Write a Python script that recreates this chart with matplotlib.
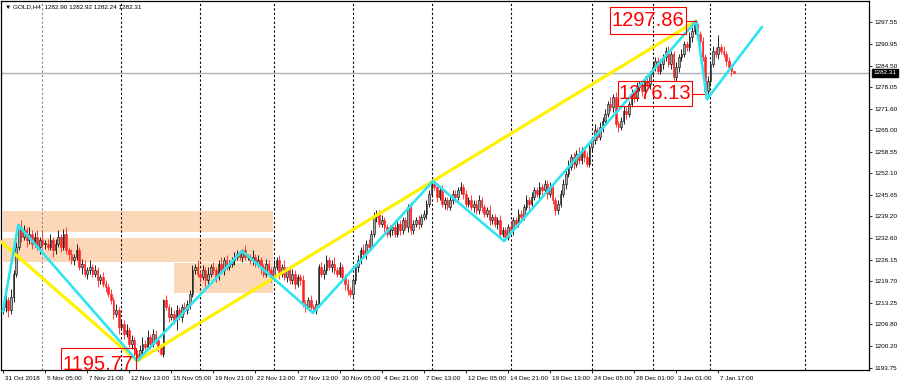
import numpy as np
import matplotlib
matplotlib.use("Agg")
import matplotlib.pyplot as plt
from matplotlib.patches import Rectangle
import matplotlib.transforms as mtransforms

plt.rcParams['font.family'] = ['Liberation Sans', 'DejaVu Sans']

# GOLD H4, one value per bar (31 Oct 2018 13:00 -> 8 Jan 2019)
closes = [
    1212, 1214, 1211, 1215, 1222, 1230, 1236,
    1233, 1235, 1232, 1234, 1231, 1233, 1230, 1232, 1231,
    1231, 1230, 1232, 1229, 1231, 1233, 1230, 1234, 1229,
    1228, 1226, 1227, 1229, 1224, 1225, 1222, 1223,
    1224, 1222, 1223, 1220, 1221, 1219, 1218, 1216,
    1214, 1210, 1211, 1206,
    1207, 1204, 1205, 1201, 1202, 1198, 1197,
    1199, 1201, 1200, 1203, 1201, 1204, 1202, 1200, 1198,
    1214,
    1212, 1209, 1210, 1208, 1211, 1209, 1212, 1211, 1213,
    1216, 1223, 1224,
    1222, 1221, 1223, 1220, 1222, 1224, 1223, 1221, 1225, 1223, 1226, 1224, 1225,
    1226, 1227, 1228, 1227, 1229, 1227,
    1227, 1226, 1227, 1225, 1226, 1224, 1222, 1225, 1223, 1221, 1224,
    1226, 1222, 1224, 1221, 1223, 1220, 1222, 1219, 1221, 1220,
    1213, 1212, 1214, 1212, 1211, 1213,
    1224,
    1222, 1223, 1226, 1224, 1225, 1223, 1222, 1224, 1221, 1219,
    1217, 1216, 1220,
    1224, 1226, 1229, 1228, 1231, 1230, 1234,
    1239, 1240, 1237, 1238, 1236, 1234,
    1235, 1236, 1234, 1237, 1235, 1238, 1236, 1242, 1235, 1237,
    1238, 1237, 1239, 1240, 1243, 1246, 1249,
    1248, 1245, 1247, 1243, 1244, 1242, 1244, 1246, 1245,
    1247, 1248, 1246, 1243, 1244, 1242,
    1243, 1241, 1244, 1242, 1240, 1241, 1238,
    1239, 1237, 1238, 1234, 1235, 1233,
    1236, 1235, 1238, 1237, 1240, 1239, 1242, 1244, 1243,
    1245, 1247, 1246, 1248, 1247, 1249, 1246, 1248,
    1244, 1241, 1243,
    1246, 1249, 1252, 1254,
    1257, 1255, 1258, 1256, 1259, 1257, 1255,
    1260, 1262, 1265, 1263, 1266, 1268,
    1270, 1273, 1272, 1275,
    1267, 1266,
    1268, 1271, 1270, 1273,
    1276, 1275, 1278, 1279, 1277,
    1280, 1279, 1282, 1284, 1286, 1283, 1285,
    1287, 1289, 1285, 1288, 1281, 1284, 1287,
    1288, 1291, 1290, 1293, 1295, 1297,
    1294,
    1292, 1287,
    1277,
    1280, 1285, 1289,
    1288, 1290, 1289, 1288,
    1286, 1284, 1282.90,
    1282.31,
]
first_open = 1211.0

wick_up = [
    1.5, 2, 1, 2.5, 1, 1.5, 1, 2, 1.5, 1,
    2, 1, 1.5, 2, 1, 3, 1, 1.5, 2, 1,
    1.5, 2, 1, 1.5, 2, 1, 1.5, 1, 2, 1,
    1.5, 1, 1, 2, 1, 1.5, 1, 1, 1.5, 1,
    1, 1.5, 1, 2, 1, 1.5, 1, 2, 1, 1.5,
    1, 1, 1.5, 2, 1, 2, 1, 1.5, 1, 1,
    1, 0.5, 1.5, 1, 2, 1, 1.5, 1, 1, 1.5,
    1, 1, 1.5, 1, 2, 1, 1.5, 1, 2, 1,
    1.5, 1, 1, 2, 1, 1.5, 1, 1, 1.5, 1,
    1, 0.5, 1.5, 1, 1, 2, 1, 1.5, 1, 1,
    1.5, 1, 1, 2, 1, 1.5, 1, 2, 1, 1,
    1.5, 1, 1, 1, 1.5, 1, 1, 1.5, 1, 1,
    1, 1.5, 2, 1.5, 1, 1, 2, 1, 1.5, 1,
    1, 1.5, 1, 1, 1, 1.5, 1, 2, 1, 1.5,
    1, 1.5, 1, 1, 1.5, 1, 1, 1.5, 1, 1,
    1.5, 1, 1, 1, 1, 1.5, 1, 1, 1.5, 1,
    1, 1, 1, 0.6, 1.5, 1, 1, 1.5, 1, 1,
    1.5, 1, 1, 1, 1.5, 1, 1, 1, 1.5, 1,
    1, 1.5, 1, 1, 1, 1.5, 1, 1, 1, 1.5,
    1, 1, 1, 1.5, 1, 1, 1.5, 1, 1, 1.5,
    1, 1.5, 1, 1, 1.5, 1, 1, 1, 1.5, 1,
    1, 1, 1, 1.5, 1, 2, 1, 1.5, 1, 2,
    1, 1, 1.5, 1, 1, 2, 1, 1.5, 1, 1.5,
    1, 2, 1, 1.5, 1, 1, 1.5, 1, 1, 1.5,
    1, 1.5, 1, 1, 1.5, 1, 1, 1.5, 1, 1,
    1.5, 1, 1, 1.5, 1, 1, 1.5, 1, 1.5, 1,
    1, 1.5, 1, 0.5, 0.86, 1, 1, 1, 1.5, 1,
    1.5, 1, 3.7, 1, 1.5, 1, 1, 1, 0.02,
]
wick_dn = [
    1, 1.5, 2, 1, 1.5, 1, 1, 1.5, 1, 2,
    1, 1.5, 1, 1, 2, 1, 1.5, 1, 1, 2,
    1, 1, 1.5, 1, 1, 2, 1, 1.5, 1, 1,
    2, 1, 1.5, 1, 1, 1, 2, 1, 1, 1.5,
    1, 1, 1.5, 1, 2, 1, 1.5, 1, 1, 1.5,
    1, 1.23, 1, 1.5, 1, 1, 1.5, 1, 1, 1.5,
    0.4, 1, 1, 1.5, 1, 1, 3, 1, 1.5, 1,
    1, 1.5, 1, 1, 1, 1.5, 1, 2, 1, 1,
    1, 1.5, 1, 1, 1.5, 1, 1, 1, 1.5, 1,
    1, 1.5, 1, 1, 1, 1.5, 1, 1, 2, 1,
    1, 1, 1.5, 1, 1, 1.5, 1, 1, 1.5, 1,
    1, 1.5, 1, 1.5, 1, 1.5, 1, 1, 0.4, 1,
    1, 1, 1.5, 1, 1, 1.5, 1, 1, 1, 1.5,
    2, 1.5, 1, 1, 1, 1.5, 1, 1, 1.5, 1,
    1, 1, 1.5, 1, 1, 1.5, 1, 1, 1.5, 1,
    1, 1.5, 1, 1, 1.5, 1, 1, 1, 1.5, 1,
    1, 1.5, 1, 1, 1, 1.5, 1, 1, 1.5, 1,
    1, 1, 1.5, 1, 1, 1.5, 1, 1, 1, 1.5,
    1, 1, 1.5, 1, 1, 1.5, 1, 1, 1.5, 1,
    1, 1.1, 1, 1, 1.5, 1, 1, 1.5, 1, 1,
    1.5, 1, 1, 1, 1.5, 1, 1, 1.5, 1, 1,
    1.5, 1, 1, 1, 1.5, 1, 1, 1.5, 1, 1,
    1, 1.5, 1, 1, 1.5, 1, 1, 1, 1.5, 1,
    1, 1, 1.5, 1, 1.5, 1, 1, 1.5, 1, 1,
    1.5, 1, 1, 1.5, 1, 1, 1.5, 1, 1, 1,
    1, 1.5, 1, 1, 1.5, 1, 1, 1.5, 1, 1,
    1, 1, 1.5, 1, 1, 1, 1, 0.87, 1, 1.5,
    1, 1, 1.5, 1, 1, 1.5, 1, 1.5, 0.07,
]

# x axis labels (every 16 bars)
tick_idx = [0, 16, 32, 48, 64, 80, 96, 112, 128, 144, 160, 176, 192, 208, 224, 240, 256, 272]
tick_text = ["31 Oct 2018", "5 Nov 05:00", "7 Nov 21:00", "12 Nov 13:00", "15 Nov 05:00",
             "19 Nov 21:00", "22 Nov 13:00", "27 Nov 13:00", "30 Nov 05:00", "4 Dec 21:00",
             "7 Dec 13:00", "12 Dec 05:00", "14 Dec 21:00", "19 Dec 13:00", "24 Dec 05:00",
             "28 Dec 01:00", "3 Jan 01:00", "7 Jan 17:00"]
price_ticks = [1297.55, 1290.95, 1284.50, 1278.05, 1271.60, 1265.00, 1258.55, 1252.10, 1245.65,
               1239.20, 1232.60, 1226.15, 1219.70, 1213.25, 1206.80, 1200.20, 1193.75]
week_sep = [15, 45, 75, 103, 133, 163, 193, 224, 247, 269, 305]

# zigzags
cyan_x = [-0.1, 5.8, 51, 90.9, 117.9, 163.5, 190.5, 263.5, 267.7, 288.6]
cyan_y = [1210.6, 1236.6, 1195.77, 1228.8, 1210.2, 1249.8, 1231.8, 1297.86, 1274.4, 1296.1]
yellow_x = [-0.8, 51, 263.5]
yellow_y = [1231.6, 1195.77, 1297.86]

# supply / demand zones
zone_x0 = [-0.1, -0.1, 65]
zone_x1 = [102.7, 102.7, 102.7]
zone_lo = [1234.6, 1225.4, 1216.3]
zone_hi = [1240.9, 1232.8, 1225.3]

# pivot labels: bar, box left/right, box bottom/top, text centre
piv_bar = [51, 264, 267]
piv_kind = ["low", "high", "low"]
lab_x0 = [22, 230.8, 233.8]
lab_x1 = [50.6, 259.7, 262]
lab_y0 = [1190.5, 1293.9, 1272.3]
lab_y1 = [1199.7, 1302.1, 1279.8]
lab_cy = [1194.6, 1298.0, 1276.05]

opens = np.array([first_open] + closes[:-1], dtype=float)
c = np.array(closes, dtype=float)
highs = np.maximum(opens, c) + np.array(wick_up)
lows = np.minimum(opens, c) - np.array(wick_dn)
x = np.arange(len(c))

fig = plt.figure(figsize=(9, 3.87), dpi=100)
ax = fig.add_axes([1 / 900, 17 / 387, 868 / 900, 369 / 387])
ax.set_xlim(-0.76, 329.3)
ax.set_ylim(1193.05, 1303.9)

for i in range(3):
    ax.add_patch(Rectangle((zone_x0[i], zone_lo[i]), zone_x1[i] - zone_x0[i], zone_hi[i] - zone_lo[i],
                           facecolor='#fcd8b8', edgecolor='none', zorder=1))

for k, s in enumerate(week_sep):
    ax.axvline(s, color='#888888' if k == 0 else 'black', lw=0.8, ls=(0, (2, 2)), zorder=1.5)

ax.axhline(c[-1], color='#a9b0b8', lw=1.0, zorder=2)

bull = c >= opens
red = '#ff2020'
ax.vlines(x[bull], lows[bull], highs[bull], color='black', lw=0.6, zorder=3)
ax.vlines(x[~bull], lows[~bull], highs[~bull], color=red, lw=0.6, zorder=3)
body_lo = np.minimum(opens, c)
body_h = np.maximum(np.abs(c - opens), 0.2)
ax.bar(x[bull], body_h[bull], bottom=body_lo[bull], width=0.62, color='#a8a8a8',
       edgecolor='black', linewidth=0.4, zorder=4)
ax.bar(x[~bull], body_h[~bull], bottom=body_lo[~bull], width=0.62, color=red,
       edgecolor=red, linewidth=0.4, zorder=4)

ax.plot(yellow_x, yellow_y, color='#fff200', lw=2.3, zorder=5, solid_capstyle='round')
ax.plot(cyan_x, cyan_y, color='#2ee4f0', lw=1.9, zorder=6, solid_capstyle='round')

for i in range(3):
    b = piv_bar[i]
    val = highs[b] if piv_kind[i] == "high" else lows[b]
    ax.add_patch(Rectangle((lab_x0[i], lab_y0[i]), lab_x1[i] - lab_x0[i], lab_y1[i] - lab_y0[i],
                           facecolor='none', edgecolor='red', lw=0.8, zorder=7))
    ax.plot([lab_x1[i], b - 0.5], [lab_cy[i], lab_cy[i]], color='red', lw=0.8, zorder=7)
    ax.text((lab_x0[i] + lab_x1[i]) / 2, lab_cy[i], f"{val:.2f}", ha='center', va='center',
            fontsize=14.5, color='red', zorder=8, clip_on=True)

ax.yaxis.tick_right()
ax.set_yticks(price_ticks)
ax.set_yticklabels([f"{p:.2f}" for p in price_ticks])
ax.set_xticks(tick_idx)
ax.set_xticklabels(tick_text, ha='left')
ax.tick_params(axis='y', direction='out', length=2.5, width=0.6, labelsize=4.6, pad=1.5)
ax.tick_params(axis='x', direction='out', length=2.5, width=0.6, labelsize=4.6, pad=2)
off = mtransforms.ScaledTranslation(2 / 100, 0, fig.dpi_scale_trans)
for lab in ax.get_xticklabels():
    lab.set_transform(lab.get_transform() + off)
for sp in ax.spines.values():
    sp.set_linewidth(0.9)

ax.annotate(f"{c[-1]:.2f}", xy=(1.0, c[-1]), xycoords=('axes fraction', 'data'),
            xytext=(3, 0), textcoords='offset points', ha='left', va='center',
            fontsize=4.6, color='white',
            bbox=dict(boxstyle='square,pad=0.25', facecolor='black', edgecolor='black'))

fig.text(5 / 900, 1 - 7 / 387,
         f"\u25bc GOLD,H4  {opens[-1]:.2f} {highs[-1]:.2f} {lows[-1]:.2f} {c[-1]:.2f}",
         fontsize=4.6, ha='left', va='center')

fig.savefig("out.png", dpi=100)
